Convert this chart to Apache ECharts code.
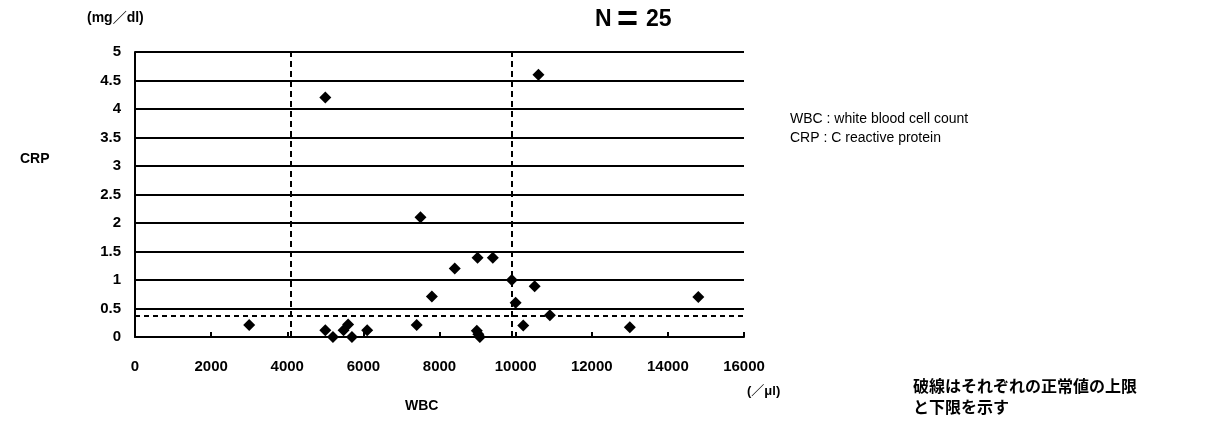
<!DOCTYPE html>
<html>
<head>
<meta charset="utf-8">
<script src="https://cdn.jsdelivr.net/npm/echarts@6/dist/echarts.min.js"></script>
<style>
  html, body { margin: 0; padding: 0; background: #fff; }
  #chart { width: 1212px; height: 427px; }
</style>
</head>
<body>
<div id="chart"></div>
<script>
// WBC (/μl) and CRP (mg/dl) for each patient
const wbc = [3000, 5000, 5000, 5200, 5480, 5600, 5700, 6100, 7400, 7500, 7800, 8400,
             9000, 9400, 8980, 9060, 9020, 9900, 10000, 10200, 10500, 10600, 10900, 13000, 14800];
const crp = [0.21, 0.12, 4.2, 0.0, 0.12, 0.22, 0.0, 0.12, 0.21, 2.1, 0.71, 1.2,
             1.39, 1.39, 0.11, 0.0, 0.05, 1.0, 0.6, 0.2, 0.89, 4.6, 0.38, 0.17, 0.7];

// normal-range limits drawn as dashed lines
const wbcLimits = [4100, 9900];
const crpLimit = 0.37;

const xTicks = { min: 0, max: 16000, step: 2000 };
const yTicks = { min: 0, max: 5, step: 0.5 };

const points = wbc.map((v, i) => [v, crp[i]]);

const chart = echarts.init(document.getElementById('chart'), null, { renderer: 'canvas' });

const boldFont = { fontFamily: 'Liberation Sans, Arial, sans-serif', fontWeight: 'bold', color: '#000' };
const bold = (size) => 'bold ' + size + 'px "Liberation Sans", Arial, "Noto Sans CJK JP", sans-serif';

chart.setOption({
  animation: false,
  backgroundColor: '#fff',
  grid: { left: 135, right: 468, top: 52, bottom: 90 },
  xAxis: {
    type: 'value',
    min: xTicks.min, max: xTicks.max, interval: xTicks.step,
    axisLine: { lineStyle: { color: '#000', width: 2 } },
    axisTick: { show: true, inside: true, length: 5, lineStyle: { color: '#000', width: 2 } },
    axisLabel: { ...boldFont, fontSize: 15, margin: 22, formatter: (v) => String(v) },
    splitLine: { show: false }
  },
  yAxis: {
    type: 'value',
    min: yTicks.min, max: yTicks.max, interval: yTicks.step,
    axisLine: { show: true, lineStyle: { color: '#000', width: 2 } },
    axisTick: { show: false },
    axisLabel: { ...boldFont, fontSize: 15, margin: 14 },
    splitLine: { show: true, lineStyle: { color: '#000', width: 2 } }
  },
  series: [{
    type: 'scatter',
    data: points,
    symbol: 'diamond',
    symbolSize: 12,
    itemStyle: { color: '#000', opacity: 1 },
    markLine: {
      silent: true,
      symbol: 'none',
      label: { show: false },
      lineStyle: { color: '#000', type: [6, 4], width: 2 },
      data: [
        { xAxis: wbcLimits[0] },
        { xAxis: wbcLimits[1] },
        { yAxis: crpLimit, lineStyle: { type: [5, 4], width: 2 } }
      ]
    }
  }],
  graphic: [
    { type: 'text', left: 87, top: 11, style: { text: '(mg／dl)', font: bold(14), fill: '#000' } },
    { type: 'text', left: 595, top: 8, style: { text: 'N', font: bold(23), fill: '#000' } },
    { type: 'text', left: 617, top: 3, style: { text: '=', font: bold(36), fill: '#000' } },
    { type: 'text', left: 646, top: 8, style: { text: '25', font: bold(23), fill: '#000' } },
    { type: 'text', left: 20, top: 152, style: { text: 'CRP', font: bold(14), fill: '#000' } },
    { type: 'text', left: 405, top: 399, style: { text: 'WBC', font: bold(14), fill: '#000' } },
    { type: 'text', left: 747, top: 385, style: { text: '(／μl)', font: bold(13), fill: '#000' } },
    { type: 'text', left: 790, top: 112, style: { text: 'WBC : white blood cell count', font: '14px "Liberation Sans", Arial, sans-serif', fill: '#000' } },
    { type: 'text', left: 790, top: 131, style: { text: 'CRP : C reactive protein', font: '14px "Liberation Sans", Arial, sans-serif', fill: '#000' } },
    { type: 'text', left: 913, top: 375, style: { text: '破線はそれぞれの正常値の上限\nと下限を示す', font: 'bold 16px "Noto Sans CJK JP", sans-serif', lineHeight: 21, fill: '#000' } }
  ]
});
</script>
</body>
</html>
